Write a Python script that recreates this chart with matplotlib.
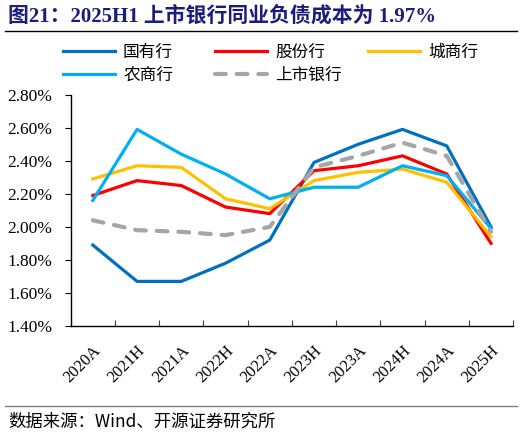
import matplotlib
matplotlib.use("Agg")
import matplotlib.pyplot as plt
from matplotlib.lines import Line2D
from matplotlib.ticker import FuncFormatter

plt.rcParams['font.family'] = ['Liberation Serif', 'Noto Sans CJK SC', 'DejaVu Sans']

periods = ['2020A', '2021H', '2021A', '2022H', '2022A', '2023H', '2023A', '2024H', '2024A', '2025H']
guoyou = [1.89, 1.67, 1.67, 1.78, 1.92, 2.39, 2.50, 2.59, 2.49, 2.00]
gufen = [2.19, 2.28, 2.25, 2.12, 2.08, 2.34, 2.37, 2.43, 2.32, 1.90]
chengshang = [2.29, 2.37, 2.36, 2.17, 2.11, 2.28, 2.33, 2.35, 2.27, 1.94]
nongshang = [2.16, 2.59, 2.44, 2.32, 2.17, 2.24, 2.24, 2.37, 2.31, 1.99]
shangshi = [2.04, 1.98, 1.97, 1.95, 2.00, 2.36, 2.43, 2.51, 2.43, 1.97]

fig = plt.figure(figsize=(5.22, 4.36), dpi=100)
ax = fig.add_axes([0.1354, 0.2523, 0.8476, 0.5305])

x = list(range(len(periods)))
lw = 2.3
l1, = ax.plot(x, guoyou, color='#0070C0', lw=lw, label='国有行')
l2, = ax.plot(x, gufen, color='#FF0000', lw=lw, label='股份行')
l3, = ax.plot(x, chengshang, color='#FFC000', lw=lw, label='城商行')
l4, = ax.plot(x, nongshang, color='#00B0F0', lw=lw, label='农商行')
l5, = ax.plot(x, shangshi, color='#A6A6A6', lw=3, ls=(0, (2.6, 2.6)),
              dash_capstyle='round', label='上市银行')

ax.set_xlim(-0.5, len(periods) - 0.5)
ax.set_ylim(1.40, 2.80)
ax.set_yticks([1.40 + 0.2 * i for i in range(8)])
ax.yaxis.set_major_formatter(FuncFormatter(lambda v, p: '%.2f%%' % v))
ax.set_xticks([i - 0.5 for i in range(len(periods) + 1)])
ax.set_xticks(x, minor=True)
ax.set_xticklabels([])
ax.set_xticklabels(periods, minor=True, rotation=45, ha='right', rotation_mode='anchor')
ax.tick_params(axis='x', which='major', direction='in', length=4, color='#404040')
ax.tick_params(axis='x', which='minor', length=0, pad=12, labelsize=12)
ax.tick_params(axis='y', direction='out', length=4, pad=9, labelsize=12.5)
for s in ['top', 'right']:
    ax.spines[s].set_visible(False)
for s in ['left', 'bottom']:
    ax.spines[s].set_linewidth(1.0)

# legend laid out in fixed-width columns, one legend per column
columns = [[l1, l4], [l2, l5], [l3]]
col_x = [63 / 522, 215 / 522, 368 / 522]
for hs, cx in zip(columns, col_x):
    fig.legend(hs, [h.get_label() for h in hs], ncol=1, frameon=False,
               loc='upper left', bbox_to_anchor=(cx, 1 - 44 / 436),
               borderpad=0, borderaxespad=0,
               prop={'family': ['Noto Sans CJK SC'], 'size': 12},
               handlelength=3.1, handletextpad=0.5, labelspacing=0.35)

fig.text(0.015, 0.962, '图21：2025H1 上市银行同业负债成本为 1.97%', fontsize=15,
         fontweight='bold', color='#1C1C7C', va='center', ha='left')
fig.add_artist(Line2D([0.01, 0.99], [0.929, 0.929], color='black', lw=1))
fig.add_artist(Line2D([0.01, 0.99], [0.069, 0.069], color='#808080', lw=1))
fig.text(0.015, 0.032, '数据来源：Wind、开源证券研究所', fontsize=12.5, va='center', ha='left',
         family=['Noto Sans CJK SC', 'DejaVu Sans'])

fig.savefig('out.png', dpi=100)
